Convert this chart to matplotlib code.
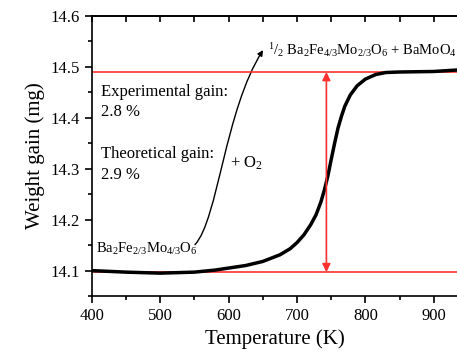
import matplotlib
matplotlib.use("Agg")
import matplotlib.pyplot as plt
import numpy as np
from matplotlib.path import Path
from matplotlib.patches import FancyArrowPatch
from matplotlib.ticker import MultipleLocator, FormatStrFormatter

plt.rcParams['font.family'] = ['Liberation Serif', 'DejaVu Serif']
plt.rcParams['mathtext.fontset'] = 'custom'
plt.rcParams['mathtext.rm'] = 'Liberation Serif'
plt.rcParams['mathtext.it'] = 'Liberation Serif'

temp = [400, 450, 500, 550, 580, 600, 625, 650, 675, 690, 700, 710, 720, 728,
        735, 740, 745, 750, 755, 760, 765, 770, 778, 788, 800, 815, 830, 850,
        900, 935]
weight = [14.100, 14.097, 14.095, 14.097, 14.101, 14.105, 14.110, 14.118, 14.131,
          14.143, 14.155, 14.170, 14.190, 14.210, 14.235, 14.258, 14.285, 14.318,
          14.350, 14.380, 14.403, 14.423, 14.445, 14.463, 14.476, 14.485, 14.489,
          14.490, 14.491, 14.494]
upper_level = 14.49
lower_level = 14.097
arrow_x = 743

fig = plt.figure(figsize=(4.57, 3.55), dpi=100)
ax = fig.add_axes([0.201, 0.166, 0.799, 0.789])

ax.axhline(upper_level, color='#ff3030', lw=1.2)
ax.axhline(lower_level, color='#ff3030', lw=1.2)
ax.plot(temp, weight, color='black', lw=2.5, solid_capstyle='round')

ax.annotate('', xy=(arrow_x, upper_level), xytext=(arrow_x, lower_level),
            arrowprops=dict(arrowstyle='<|-|>', color='#ff3030', lw=1.2,
                            mutation_scale=12, shrinkA=0, shrinkB=0))

verts = [(550.8, 14.151), (584.5, 14.20), (594.7, 14.416), (650.4, 14.533)]
codes = [Path.MOVETO, Path.CURVE4, Path.CURVE4, Path.CURVE4]
arr = FancyArrowPatch(path=Path(verts, codes), arrowstyle='-|>', color='black',
                      lw=1.0, mutation_scale=8)
ax.add_patch(arr)

fs = 12
ax.text(413, 14.451, 'Experimental gain:', fontsize=fs, va='center')
ax.text(413, 14.412, '2.8 %', fontsize=fs, va='center')
ax.text(413, 14.329, 'Theoretical gain:', fontsize=fs, va='center')
ax.text(413, 14.288, '2.9 %', fontsize=fs, va='center')
ax.text(602, 14.31, r'+ O$_2$', fontsize=fs, va='center')
ax.text(406, 14.143, r'Ba$_2$Fe$_{2/3}$Mo$_{4/3}$O$_6$', fontsize=10.5, va='center')
ax.text(657, 14.533, r'$^{1}$/$_{2}$ Ba$_2$Fe$_{4/3}$Mo$_{2/3}$O$_6$ + BaMoO$_4$',
        fontsize=10.5, va='center', clip_on=False)

ax.set_xlim(400, 934)
ax.set_ylim(14.05, 14.6)
ax.xaxis.set_major_locator(MultipleLocator(100))
ax.xaxis.set_minor_locator(MultipleLocator(50))
ax.yaxis.set_major_locator(MultipleLocator(0.1))
ax.yaxis.set_minor_locator(MultipleLocator(0.05))
ax.yaxis.set_major_formatter(FormatStrFormatter('%.1f'))
ax.tick_params(axis='both', which='both', direction='out', labelsize=12, width=1.2)
ax.tick_params(which='major', length=5)
ax.tick_params(which='minor', length=3)
ax.spines['right'].set_visible(False)
for s in ['left', 'bottom', 'top']:
    ax.spines[s].set_linewidth(1.2)

# inward ticks on the top spine
ax_top = ax.secondary_xaxis('top')
ax_top.xaxis.set_major_locator(MultipleLocator(50))
ax_top.tick_params(direction='in', length=4, width=1.2, labeltop=False)
ax_top.spines['top'].set_linewidth(1.2)

ax.set_xlabel('Temperature (K)', fontsize=15)
ax.set_ylabel('Weight gain (mg)', fontsize=15)

fig.savefig('out.png', dpi=100)
